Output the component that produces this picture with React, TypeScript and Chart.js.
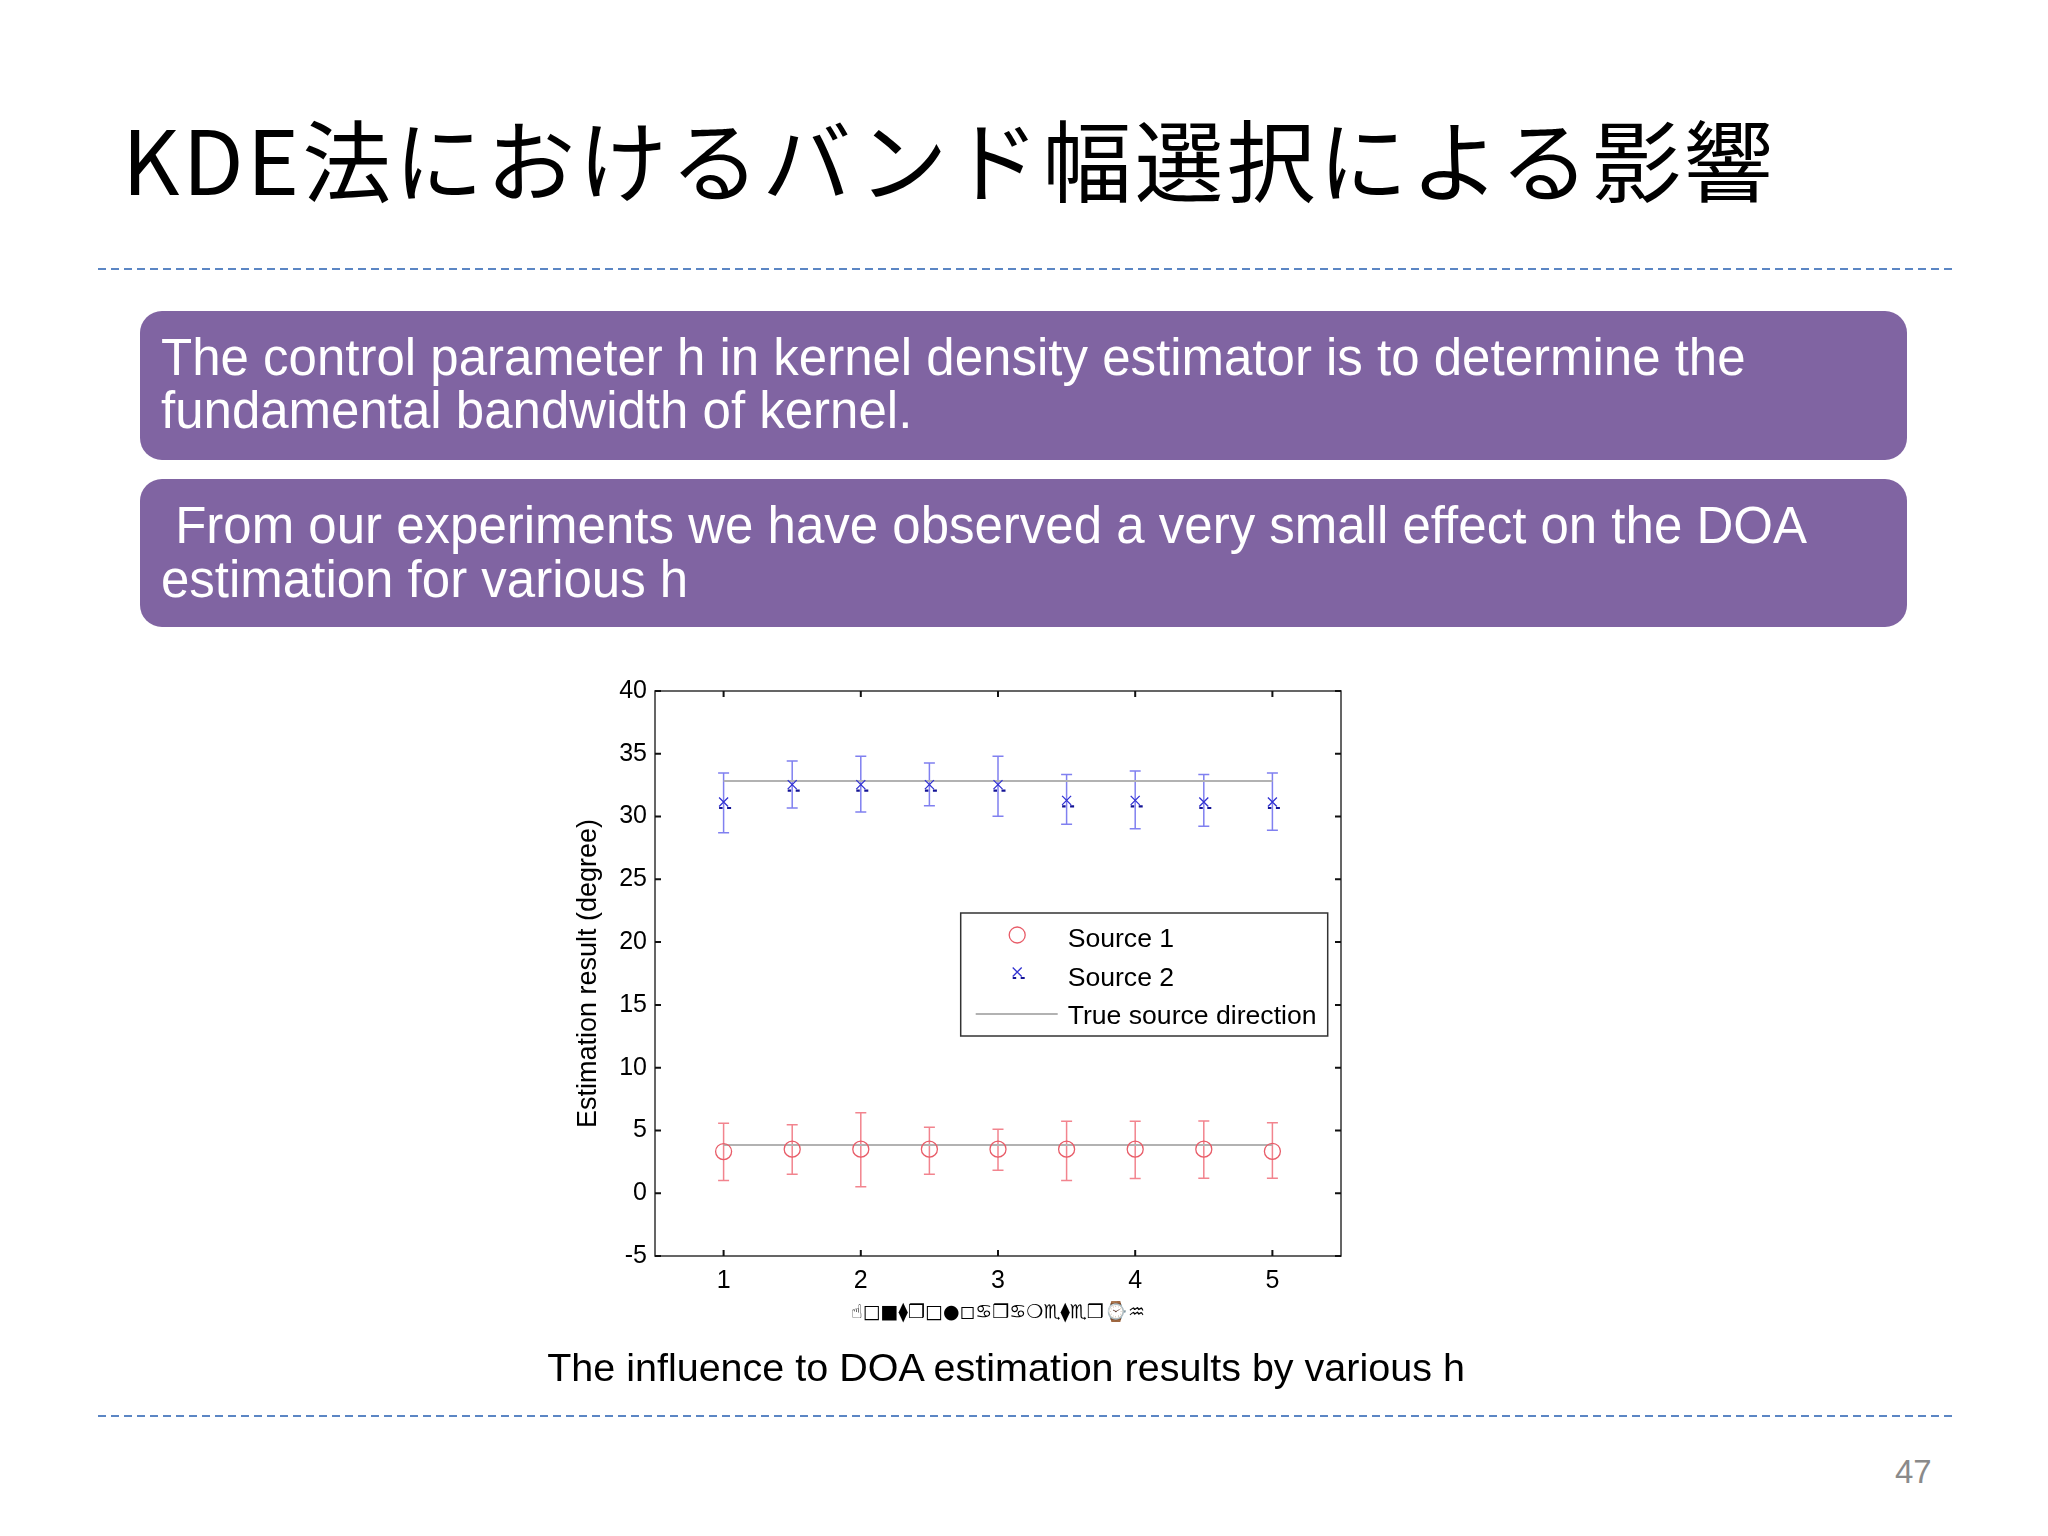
import React, { useEffect, useRef } from 'react';
import { Chart, registerables } from 'chart.js';

Chart.register(...registerables);

// ---- data ----
const hValues = [1, 1.5, 2, 2.5, 3, 3.5, 4, 4.5, 5];
const source1Mean = [3.32, 3.51, 3.51, 3.51, 3.51, 3.51, 3.51, 3.51, 3.34];
const source1Upper = [5.58, 5.45, 6.41, 5.26, 5.1, 5.74, 5.74, 5.76, 5.62];
const source1Lower = [1.01, 1.51, 0.51, 1.51, 1.83, 1.01, 1.17, 1.2, 1.2];
const source2Mean = [31.16, 32.54, 32.54, 32.54, 32.54, 31.29, 31.29, 31.16, 31.16];
const source2Upper = [33.47, 34.42, 34.8, 34.26, 34.8, 33.34, 33.63, 33.34, 33.47];
const source2Lower = [28.72, 30.68, 30.36, 30.87, 30.02, 29.38, 29.03, 29.22, 28.9];
const trueSource1 = 3.85;
const trueSource2 = 32.83;
const xTicks = [1, 2, 3, 4, 5];
const yMin = -5;
const yMax = 40;
const yStep = 5;
const legendLabels = ['Source 1', 'Source 2', 'True source direction'];
const yTitle = 'Estimation result (degree)';
const xTitle = '☝□■⧫❒□●◻♋❒♋❍♏⧫♏❒⌚♒';

const titleText = 'KDE法におけるバンド幅選択による影響';
const box1Lines = ['The control parameter h in kernel density estimator is to determine the', 'fundamental bandwidth of kernel.'];
const box2Lines = [' From our experiments we have observed a very small effect on the DOA', 'estimation for various h'];
const captionText = 'The influence to DOA estimation results by various h';
const pageNumber = '47';

// ---- styles ----
const RED = 'rgb(232,92,104)';
const RED_BAR = 'rgb(242,132,142)';
const BLUE = 'rgb(50,50,210)';
const BLUE_BAR = 'rgb(128,128,240)';
const BLUE_DASH = 'rgb(20,20,150)';
const GRAY = 'rgb(178,178,178)';
const FONT = "'Liberation Sans', Arial, 'DejaVu Sans', sans-serif";

function drawCross(ctx: CanvasRenderingContext2D, x: number, y: number) {
  ctx.save();
  ctx.strokeStyle = BLUE;
  ctx.lineWidth = 1.3;
  ctx.beginPath();
  ctx.moveTo(x - 4.5, y - 4.5); ctx.lineTo(x + 4.5, y + 4.5);
  ctx.moveTo(x + 4.5, y - 4.5); ctx.lineTo(x - 4.5, y + 4.5);
  ctx.stroke();
  ctx.strokeStyle = BLUE_DASH;
  ctx.lineWidth = 2.2;
  ctx.beginPath();
  ctx.moveTo(x - 4.5, y + 6); ctx.lineTo(x - 1, y + 6);
  ctx.moveTo(x + 3.5, y + 6); ctx.lineTo(x + 7.5, y + 6);
  ctx.stroke();
  ctx.restore();
}

const errorBarPlugin = {
  id: 'errorBars',
  beforeDatasetsDraw(chart: any) {
    const ctx = chart.ctx as CanvasRenderingContext2D;
    const xs = chart.scales.x;
    const ys = chart.scales.y;
    chart.data.datasets.forEach((ds: any) => {
      if (!ds.errUpper) return;
      ctx.save();
      ctx.strokeStyle = ds.errColor;
      ctx.lineWidth = 1.5;
      ds.data.forEach((p: any, i: number) => {
        const x = xs.getPixelForValue(p.x);
        const yt = ys.getPixelForValue(ds.errUpper[i]);
        const yb = ys.getPixelForValue(ds.errLower[i]);
        ctx.beginPath();
        ctx.moveTo(x, yt); ctx.lineTo(x, yb);
        ctx.moveTo(x - 5.5, yt); ctx.lineTo(x + 5.5, yt);
        ctx.moveTo(x - 5.5, yb); ctx.lineTo(x + 5.5, yb);
        ctx.stroke();
      });
      ctx.restore();
    });
  },
  afterDatasetsDraw(chart: any) {
    const ctx = chart.ctx as CanvasRenderingContext2D;
    const meta = chart.getDatasetMeta(1);
    meta.data.forEach((pt: any) => drawCross(ctx, pt.x, pt.y));
  },
};

const frameLegendPlugin = {
  id: 'frameLegend',
  afterDraw(chart: any) {
    const ctx = chart.ctx as CanvasRenderingContext2D;
    const { left, right, top, bottom } = chart.chartArea;
    const xs = chart.scales.x;
    const ys = chart.scales.y;
    ctx.save();
    ctx.strokeStyle = '#333';
    ctx.lineWidth = 1.5;
    ctx.strokeRect(left, top, right - left, bottom - top);
    // inward ticks
    ctx.strokeStyle = '#111';
    ctx.lineWidth = 2;
    ctx.beginPath();
    xTicks.forEach((v) => {
      const x = xs.getPixelForValue(v);
      ctx.moveTo(x, top); ctx.lineTo(x, top + 6);
      ctx.moveTo(x, bottom); ctx.lineTo(x, bottom - 6);
    });
    for (let v = yMin; v <= yMax; v += yStep) {
      const y = ys.getPixelForValue(v);
      ctx.moveTo(left, y); ctx.lineTo(left + 6, y);
      ctx.moveTo(right, y); ctx.lineTo(right - 6, y);
    }
    ctx.stroke();

    // legend
    const bx = left + 305.7;
    const by = top + 222;
    const bw = 367;
    const bh = 123;
    ctx.fillStyle = '#fff';
    ctx.fillRect(bx, by, bw, bh);
    ctx.strokeStyle = '#333';
    ctx.lineWidth = 1.5;
    ctx.strokeRect(bx, by, bw, bh);
    const rows = [by + 26, by + 65, by + 103];
    const mx = bx + 56.5;
    ctx.strokeStyle = RED;
    ctx.lineWidth = 1.3;
    ctx.beginPath();
    ctx.arc(mx, rows[0] - 4, 8, 0, Math.PI * 2);
    ctx.stroke();
    drawCross(ctx, mx, rows[1] - 6);
    ctx.strokeStyle = GRAY;
    ctx.lineWidth = 2;
    ctx.beginPath();
    ctx.moveTo(bx + 15, rows[2] - 2); ctx.lineTo(bx + 97, rows[2] - 2);
    ctx.stroke();
    ctx.fillStyle = '#000';
    ctx.font = `26.6px ${FONT}`;
    ctx.textBaseline = 'middle';
    ctx.textAlign = 'left';
    legendLabels.forEach((t, i) => ctx.fillText(t, bx + 107, rows[i] + 1));
    ctx.restore();
  },
};

function ChartBox() {
  const ref = useRef<HTMLCanvasElement>(null);
  useEffect(() => {
    const last = hValues.length - 1;
    const chart = new Chart(ref.current!, {
      type: 'scatter',
      data: {
        datasets: [
          {
            label: legendLabels[0],
            data: hValues.map((x, i) => ({ x, y: source1Mean[i] })),
            pointStyle: 'circle',
            pointRadius: 8,
            pointBorderColor: RED,
            pointBackgroundColor: 'rgba(0,0,0,0)',
            pointBorderWidth: 1.3,
            showLine: false,
            order: 1,
            errUpper: source1Upper,
            errLower: source1Lower,
            errColor: RED_BAR,
          } as any,
          {
            label: legendLabels[1],
            data: hValues.map((x, i) => ({ x, y: source2Mean[i] })),
            pointRadius: 0,
            showLine: false,
            order: 1,
            errUpper: source2Upper,
            errLower: source2Lower,
            errColor: BLUE_BAR,
          } as any,
          {
            label: legendLabels[2],
            data: [{ x: hValues[0], y: trueSource1 }, { x: hValues[last], y: trueSource1 }],
            showLine: true,
            borderColor: GRAY,
            borderWidth: 2,
            pointRadius: 0,
            order: 2,
          },
          {
            label: legendLabels[2],
            data: [{ x: hValues[0], y: trueSource2 }, { x: hValues[last], y: trueSource2 }],
            showLine: true,
            borderColor: GRAY,
            borderWidth: 2,
            pointRadius: 0,
            order: 2,
          },
        ],
      },
      options: {
        animation: false,
        responsive: false,
        devicePixelRatio: 1,
        layout: { padding: { top: 31, right: 39, left: 0, bottom: 0 } },
        plugins: { legend: { display: false }, tooltip: { enabled: false } },
        scales: {
          x: {
            type: 'linear',
            min: 0.5,
            max: 5.5,
            afterBuildTicks: (s: any) => { s.ticks = xTicks.map((v) => ({ value: v })); },
            afterFit: (s: any) => { s.height = 104; },
            grid: { display: false, drawTicks: false },
            border: { display: false },
            ticks: { font: { size: 25, family: FONT }, color: '#000', padding: 10, maxRotation: 0 },
            title: { display: true, text: xTitle, color: '#000', font: { size: 19, weight: 'bold', family: "'DejaVu Sans', sans-serif" }, padding: { top: 0, bottom: 36 } },
          },
          y: {
            type: 'linear',
            min: yMin,
            max: yMax,
            afterFit: (s: any) => { s.width = 95; },
            grid: { display: false, drawTicks: false },
            border: { display: false },
            ticks: { stepSize: yStep, font: { size: 25, family: FONT }, color: '#000', padding: 8 },
            title: { display: true, text: yTitle, color: '#000', font: { size: 27, family: FONT }, padding: { top: 12, bottom: 0 } },
          },
        },
      },
      plugins: [errorBarPlugin, frameLegendPlugin],
    });
    return () => chart.destroy();
  }, []);
  return (
    <div style={{ position: 'absolute', left: 560, top: 660, width: 820, height: 700 }}>
      <canvas ref={ref} width={820} height={700} style={{ width: 820, height: 700, display: 'block' }} />
    </div>
  );
}

function Line({ baseline, left, size, family, color, children, center, spacing }: any) {
  const asc = family.includes('CJK') ? 0.936 : 0.8465;
  const style: React.CSSProperties = {
    position: 'absolute',
    top: baseline - asc * size,
    fontSize: size,
    lineHeight: `${size}px`,
    fontFamily: family,
    color,
    whiteSpace: 'pre',
    letterSpacing: spacing ? `${spacing}px` : undefined,
  };
  if (center !== undefined) {
    style.left = center - 1200;
    style.width = 2400;
    style.textAlign = 'center';
  } else {
    style.left = left;
  }
  return <div style={style}>{children}</div>;
}

function Dashed({ y }: { y: number }) {
  return (
    <svg style={{ position: 'absolute', left: 0, top: y - 2, width: 2048, height: 4 }} width={2048} height={4}>
      <line x1={98} y1={2} x2={1953} y2={2} stroke="#5b86c4" strokeWidth={2} strokeDasharray="8 5" />
    </svg>
  );
}

const PURPLE = '#8064a2';
const ARIAL = "'Liberation Sans', Arial, sans-serif";
const CJK = "'Noto Sans CJK JP', sans-serif";

export default function App() {
  useEffect(() => { document.body.style.margin = '0'; }, []);
  return (
    <div style={{ position: 'absolute', left: 0, top: 0, width: 2048, height: 1536, background: '#fff', overflow: 'hidden' }}>
      <Line baseline={195} left={122} size={89} family={CJK} color="#000" spacing={3}>{titleText}</Line>
      <Dashed y={269} />
      <div style={{ position: 'absolute', left: 140, top: 311, width: 1767, height: 149, background: PURPLE, borderRadius: 22 }} />
      <div style={{ position: 'absolute', left: 140, top: 479, width: 1767, height: 148, background: PURPLE, borderRadius: 22 }} />
      <Line baseline={375} left={161} size={51} family={ARIAL} color="#fff">{box1Lines[0]}</Line>
      <Line baseline={428} left={161} size={51} family={ARIAL} color="#fff">{box1Lines[1]}</Line>
      <Line baseline={543} left={161} size={51} family={ARIAL} color="#fff">{box2Lines[0]}</Line>
      <Line baseline={597} left={161} size={51} family={ARIAL} color="#fff">{box2Lines[1]}</Line>
      <ChartBox />
      <Line baseline={1381} center={1006} size={39.5} family={ARIAL} color="#000">{captionText}</Line>
      <Dashed y={1416} />
      <Line baseline={1483} left={1895} size={33} family={ARIAL} color="#8a8a8a">{pageNumber}</Line>
    </div>
  );
}
